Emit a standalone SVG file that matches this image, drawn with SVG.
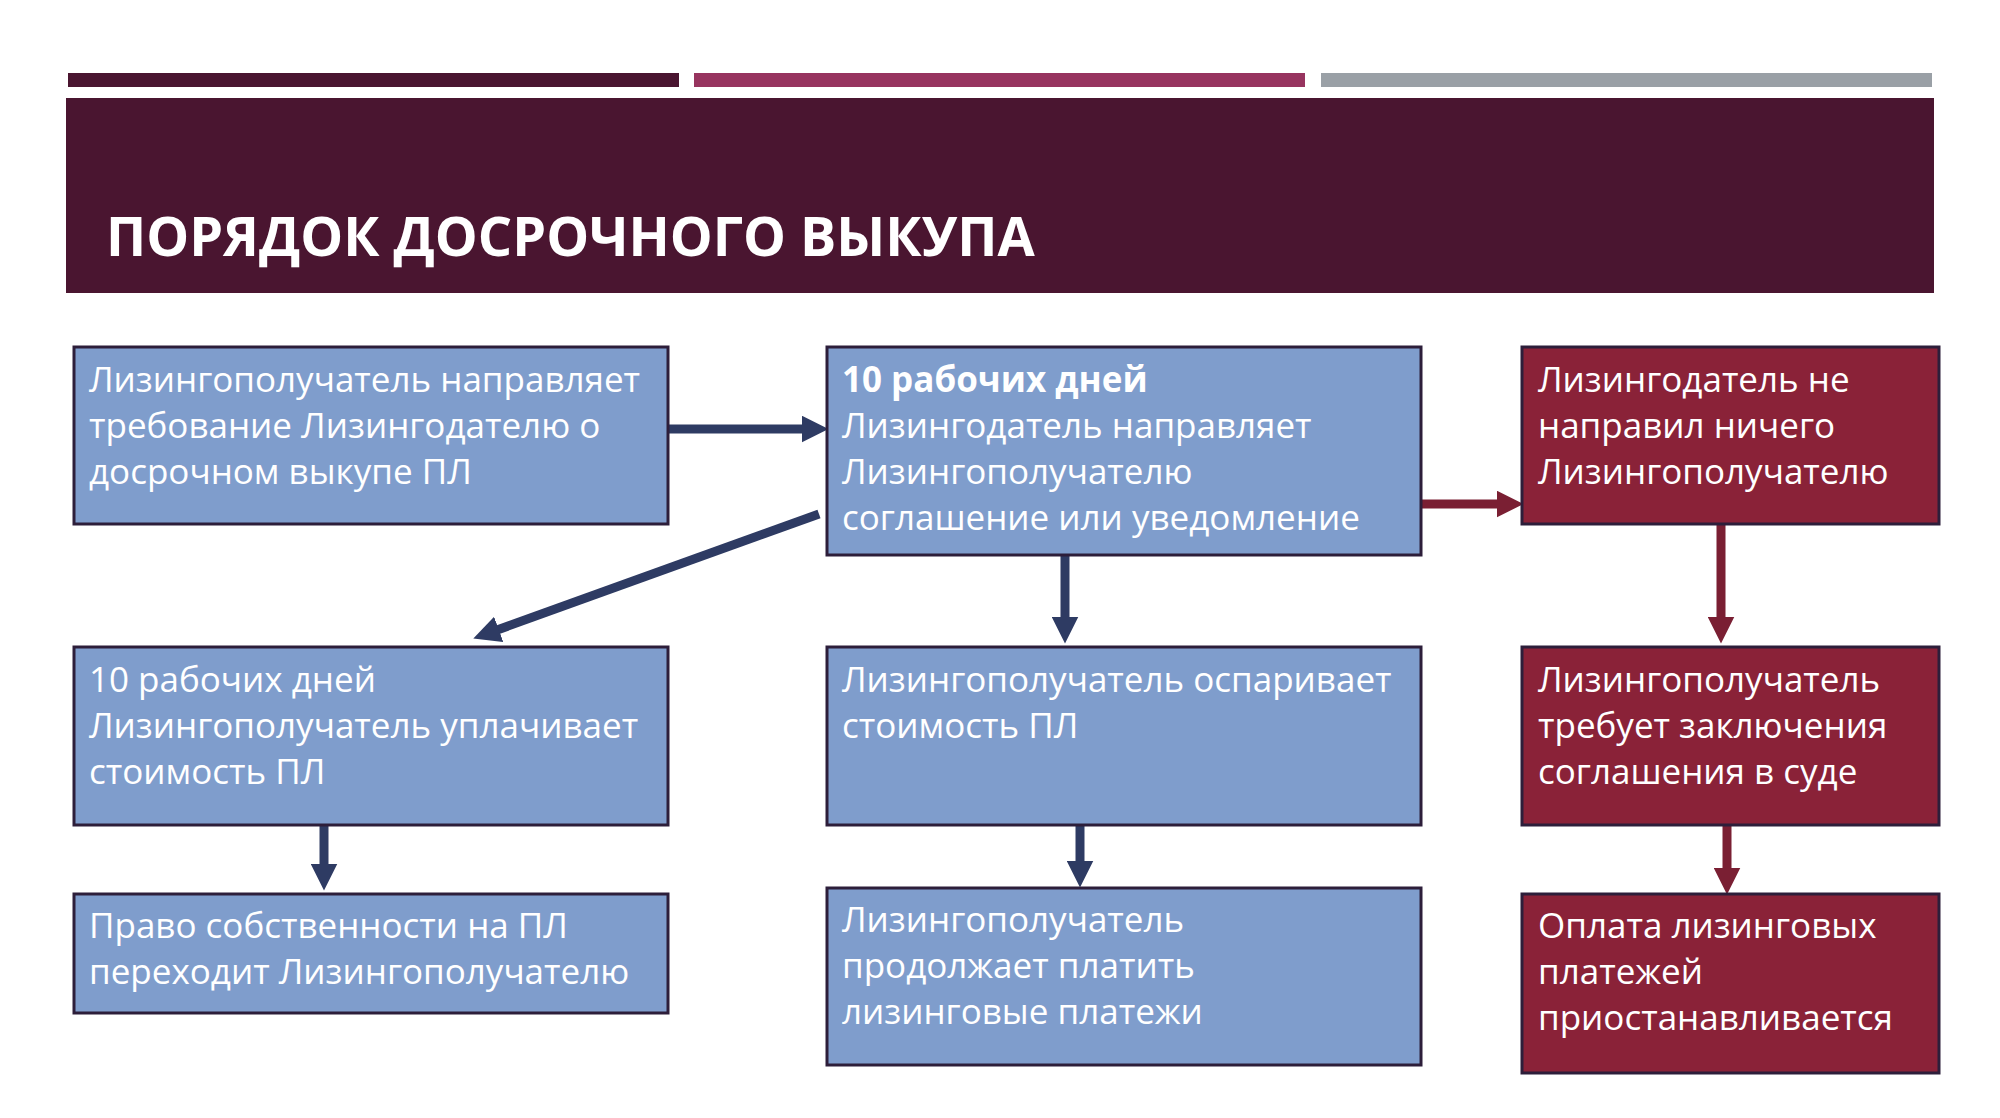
<svg xmlns="http://www.w3.org/2000/svg" width="2000" height="1118" viewBox="0 0 2000 1118">
<style>
.b{fill:#7f9dcc;stroke:#2d1e3a;stroke-width:3}
.r{fill:#8a2238;stroke:#2d1e3a;stroke-width:3}
text{font-family:"Open Sans","Liberation Sans",sans-serif;font-size:35px;fill:#fff}
.an{stroke:#2e3b63;stroke-width:9;fill:none}
.ar{stroke:#7a1f33;stroke-width:9;fill:none}
</style>
<defs>
<marker id="mn" viewBox="0 0 10 10" refX="5" refY="5" markerWidth="3" markerHeight="3" orient="auto" markerUnits="strokeWidth"><path d="M0,0L10,5L0,10z" fill="#2e3b63"/></marker>
<marker id="mr" viewBox="0 0 10 10" refX="5" refY="5" markerWidth="3" markerHeight="3" orient="auto" markerUnits="strokeWidth"><path d="M0,0L10,5L0,10z" fill="#7a1f33"/></marker>
</defs>
<rect width="2000" height="1118" fill="#fff"/>
<rect x="68" y="73" width="611" height="14" fill="#4a1530"/>
<rect x="694" y="73" width="611" height="14" fill="#97345f"/>
<rect x="1321" y="73" width="611" height="14" fill="#9aa0a6"/>
<rect x="66" y="98" width="1868" height="195" fill="#4a1530"/>
<text x="106" y="256" style="font-size:54px;font-weight:bold">ПОРЯДОК ДОСРОЧНОГО  ВЫКУПА</text>
<g id="connectors">
<line class="an" x1="668" y1="429" x2="815" y2="429" marker-end="url(#mn)"/>
<line class="ar" x1="1421" y1="504" x2="1510" y2="504" marker-end="url(#mr)"/>
<line class="an" x1="819" y1="514" x2="486" y2="634" marker-end="url(#mn)"/>
<line class="an" x1="1065" y1="555" x2="1065" y2="630" marker-end="url(#mn)"/>
<line class="ar" x1="1721" y1="524" x2="1721" y2="630" marker-end="url(#mr)"/>
<line class="an" x1="324" y1="825" x2="324" y2="877" marker-end="url(#mn)"/>
<line class="an" x1="1080" y1="825" x2="1080" y2="874" marker-end="url(#mn)"/>
<line class="ar" x1="1727" y1="825" x2="1727" y2="881" marker-end="url(#mr)"/>
</g>
<g id="n1"><rect class="b" x="74" y="347" width="594" height="177"/><text x="89" y="392">Лизингополучатель направляет<tspan x="89" dy="46">требование Лизингодателю о</tspan><tspan x="89" dy="46">досрочном выкупе ПЛ</tspan></text></g>
<g id="n2"><rect class="b" x="827" y="347" width="594" height="208"/><text x="842" y="392"><tspan font-weight="bold">10 рабочих дней</tspan><tspan x="842" dy="46">Лизингодатель направляет</tspan><tspan x="842" dy="46">Лизингополучателю</tspan><tspan x="842" dy="46">соглашение или уведомление</tspan></text></g>
<g id="n3"><rect class="r" x="1522" y="347" width="417" height="177"/><text x="1538" y="392">Лизингодатель не<tspan x="1538" dy="46">направил ничего</tspan><tspan x="1538" dy="46">Лизингополучателю</tspan></text></g>
<g id="n4"><rect class="b" x="74" y="647" width="594" height="178"/><text x="89" y="692">10 рабочих дней<tspan x="89" dy="46">Лизингополучатель уплачивает</tspan><tspan x="89" dy="46">стоимость ПЛ</tspan></text></g>
<g id="n5"><rect class="b" x="827" y="647" width="594" height="178"/><text x="842" y="692">Лизингополучатель оспаривает<tspan x="842" dy="46">стоимость ПЛ</tspan></text></g>
<g id="n6"><rect class="r" x="1522" y="647" width="417" height="178"/><text x="1538" y="692">Лизингополучатель<tspan x="1538" dy="46">требует заключения</tspan><tspan x="1538" dy="46">соглашения в суде</tspan></text></g>
<g id="n7"><rect class="b" x="74" y="894" width="594" height="119"/><text x="89" y="938">Право собственности на ПЛ<tspan x="89" dy="46">переходит Лизингополучателю</tspan></text></g>
<g id="n8"><rect class="b" x="827" y="888" width="594" height="177"/><text x="842" y="932">Лизингополучатель<tspan x="842" dy="46">продолжает платить</tspan><tspan x="842" dy="46">лизинговые платежи</tspan></text></g>
<g id="n9"><rect class="r" x="1522" y="894" width="417" height="179"/><text x="1538" y="938">Оплата лизинговых<tspan x="1538" dy="46">платежей</tspan><tspan x="1538" dy="46">приостанавливается</tspan></text></g>
</svg>
